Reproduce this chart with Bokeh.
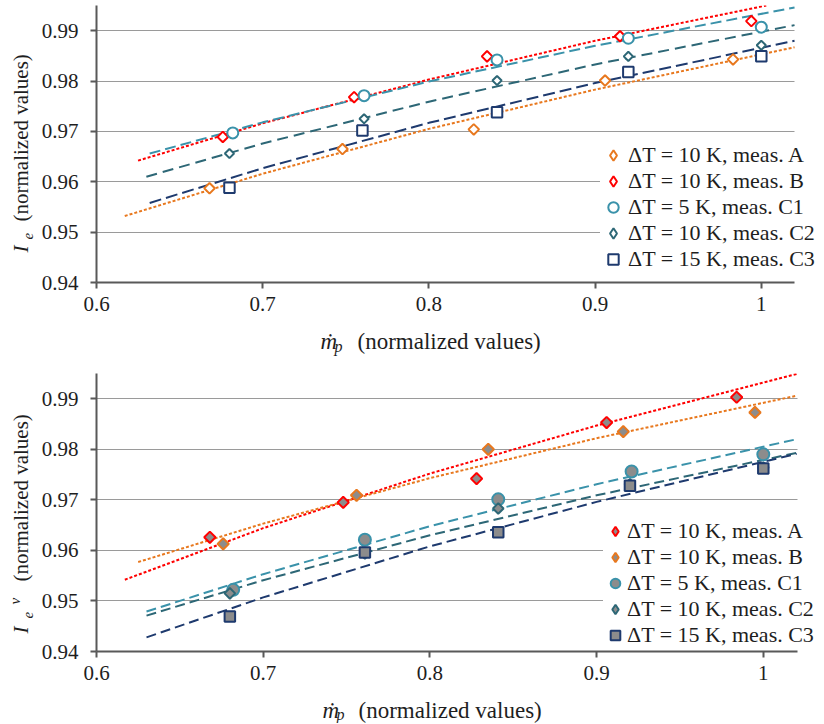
import math
from bokeh.plotting import figure
from bokeh.models import Range1d, FixedTicker, Legend, LegendItem
from bokeh.layouts import column, row
from bokeh.core.properties import value
from bokeh.embed import file_html
from bokeh.resources import INLINE

# ---------------- data ----------------
x_ticks = [0.6, 0.7, 0.8, 0.9, 1.0]
x_tick_labels = ["0.6", "0.7", "0.8", "0.9", "1"]
y_ticks = [0.94, 0.95, 0.96, 0.97, 0.98, 0.99]
y_tick_labels = ["0.94", "0.95", "0.96", "0.97", "0.98", "0.99"]

# top panel: I_e
top_labels = ["ΔT = 10 K, meas. A", "ΔT = 10 K, meas. B", "ΔT = 5 K, meas. C1",
              "ΔT = 10 K, meas. C2", "ΔT = 15 K, meas. C3"]
top_A_x = [0.668, 0.748, 0.827, 0.906, 0.983]
top_A_y = [0.9587, 0.9665, 0.9704, 0.9801, 0.9843]
top_B_x = [0.676, 0.755, 0.835, 0.915, 0.994]
top_B_y = [0.9689, 0.9768, 0.9849, 0.9889, 0.9919]
top_C1_x = [0.682, 0.761, 0.841, 0.920, 1.000]
top_C1_y = [0.9697, 0.9771, 0.9842, 0.9885, 0.9907]
top_C2_x = [0.680, 0.761, 0.841, 0.920, 1.000]
top_C2_y = [0.9656, 0.9725, 0.9801, 0.9849, 0.9871]
top_C3_x = [0.680, 0.760, 0.841, 0.920, 1.000]
top_C3_y = [0.9588, 0.9702, 0.9738, 0.9818, 0.9849]

# trend lines
top_A_fit_x = [0.617, 0.7, 0.8, 0.9, 1.02]
top_A_fit_y = [0.9532, 0.9616, 0.9705, 0.9783, 0.9867]
top_B_fit_x = [0.625, 0.7, 0.8, 0.9, 1.003]
top_B_fit_y = [0.9642, 0.9716, 0.9803, 0.9880, 0.9950]
top_C1_fit_x = [0.632, 0.7, 0.8, 0.9, 1.02]
top_C1_fit_y = [0.9656, 0.9718, 0.9799, 0.9870, 0.9946]
top_C2_fit_x = [0.630, 0.7, 0.8, 0.9, 1.02]
top_C2_fit_y = [0.9610, 0.9676, 0.9759, 0.9833, 0.9911]
top_C3_fit_x = [0.632, 0.7, 0.8, 0.9, 1.02]
top_C3_fit_y = [0.9558, 0.9627, 0.9717, 0.9796, 0.9880]

# bottom panel: I_e^v
bot_labels = ["ΔT = 10 K, meas. A", "ΔT = 10 K, meas. B", "ΔT = 5 K, meas. C1",
              "ΔT = 10 K, meas. C2", "ΔT = 15 K, meas. C3"]
bot_A_x = [0.668, 0.748, 0.828, 0.906, 0.984]
bot_A_y = [0.9626, 0.9695, 0.9742, 0.9853, 0.9903]
bot_B_x = [0.676, 0.756, 0.835, 0.916, 0.995]
bot_B_y = [0.9613, 0.9709, 0.9800, 0.9835, 0.9873]
bot_C1_x = [0.682, 0.761, 0.841, 0.921, 1.000]
bot_C1_y = [0.9522, 0.9621, 0.9701, 0.9756, 0.9790]
bot_C2_x = [0.680, 0.761, 0.841, 0.920, 1.000]
bot_C2_y = [0.9515, 0.9594, 0.9683, 0.9731, 0.9764]
bot_C3_x = [0.680, 0.761, 0.841, 0.920, 1.000]
bot_C3_y = [0.9469, 0.9596, 0.9636, 0.9728, 0.9762]

bot_A_fit_x = [0.617, 0.7, 0.8, 0.9, 1.02]
bot_A_fit_y = [0.9542, 0.9644, 0.9752, 0.9847, 0.9949]
bot_B_fit_x = [0.625, 0.7, 0.8, 0.9, 1.02]
bot_B_fit_y = [0.9577, 0.9653, 0.9743, 0.9822, 0.9906]
bot_C1_fit_x = [0.630, 0.7, 0.8, 0.9, 1.02]
bot_C1_fit_y = [0.9479, 0.9553, 0.9648, 0.9731, 0.9820]
bot_C2_fit_x = [0.630, 0.7, 0.8, 0.9, 1.02]
bot_C2_fit_y = [0.9471, 0.9541, 0.9630, 0.9709, 0.9793]
bot_C3_fit_x = [0.630, 0.7, 0.8, 0.9, 1.02]
bot_C3_fit_y = [0.9428, 0.9507, 0.9608, 0.9696, 0.9791]

# ---------------- style ----------------
FONT = "Liberation Serif"
TXT = "#1e1e1e"
ORANGE = "#E8781E"
RED = "#FF0000"
TEAL = "#3A92AA"
DTEAL = "#2D6776"
NAVY = "#1E3A6E"
GFILL = "#8C8C8C"
DIAM = math.pi / 4
YL_W = 38        # y-title strip width
LB = 58          # left border of the plots (frame starts at 96)
FW = 722         # frame width (extends right so legend text fits)


def make_fig(fh, x_end, x_axis_end, y_end, b_top, b_bottom):
    p = figure(frame_width=FW, frame_height=fh,
               x_range=Range1d(0.6, x_end), y_range=Range1d(0.94, y_end),
               output_backend="svg", toolbar_location=None,
               min_border_left=LB, min_border_right=2,
               min_border_top=b_top, min_border_bottom=b_bottom)
    p.outline_line_color = None
    p.background_fill_color = "white"
    p.xgrid.visible = False
    p.ygrid.ticker = FixedTicker(ticks=y_ticks)
    p.ygrid.grid_line_color = "#9a9a9a"
    p.ygrid.grid_line_width = 1
    try:
        p.ygrid.cross_bounds = (0.6, x_axis_end)
    except Exception:
        pass
    p.xaxis.bounds = (0.6, x_axis_end)
    p.xaxis.ticker = FixedTicker(ticks=x_ticks)
    p.yaxis.ticker = FixedTicker(ticks=y_ticks)
    p.xaxis.major_label_overrides = {t: l for t, l in zip(x_ticks, x_tick_labels)}
    p.yaxis.major_label_overrides = {t: l for t, l in zip(y_ticks, y_tick_labels)}
    for ax in (p.xaxis, p.yaxis):
        ax.axis_line_color = "#595959"
        ax.axis_line_width = 2
        ax.major_tick_line_color = "#595959"
        ax.major_tick_line_width = 2
        ax.major_tick_out = 6
        ax.major_tick_in = 0
        ax.minor_tick_line_color = None
        ax.major_label_text_font = FONT
        ax.major_label_text_font_size = "21px"
        ax.major_label_text_color = TXT
        ax.major_label_text_line_height = 1.0
    p.xaxis.major_label_standoff = 8
    p.yaxis.major_label_standoff = 12
    return p


def text_fig(fw, fh, bl=0, br=0, bt=0, bb=0):
    t = figure(frame_width=fw, frame_height=fh, x_range=Range1d(0, fw), y_range=Range1d(0, fh),
               x_axis_type=None, y_axis_type=None, output_backend="svg",
               toolbar_location=None, min_border_left=bl, min_border_right=br,
               min_border_top=bt, min_border_bottom=bb)
    t.outline_line_color = None
    t.grid.visible = False
    return t


def piece(t, x, y, txt, size, style="normal", angle=0.0, baseline="alphabetic"):
    t.text(x=[x], y=[y], text=[txt], angle=angle, text_font=value(FONT),
           text_font_size=value(size), text_font_style=style, text_color=TXT,
           text_align="left", text_baseline=baseline)


def add_legend(p, items, loc, gw, standoff, pad):
    leg = Legend(items=items, location=loc, orientation="vertical",
                 padding=pad, margin=0, spacing=0,
                 glyph_width=gw, glyph_height=26, label_height=26,
                 label_standoff=standoff,
                 label_text_font=FONT, label_text_font_size="22px",
                 label_text_color=TXT,
                 background_fill_color="white", background_fill_alpha=1.0,
                 border_line_color=None)
    p.add_layout(leg)


# ---------------- top figure ----------------
p1 = make_fig(277, 0.6 + FW / 1662.0, 1.0197, 0.995, 5, 38)
p1.line(top_A_fit_x, top_A_fit_y, line_color=ORANGE, line_width=2, line_dash="3 2")
p1.line(top_B_fit_x, top_B_fit_y, line_color=RED, line_width=2, line_dash="3 2")
p1.line(top_C1_fit_x, top_C1_fit_y, line_color=TEAL, line_width=2, line_dash="11 5")
p1.line(top_C2_fit_x, top_C2_fit_y, line_color=DTEAL, line_width=2, line_dash="11 6")
p1.line(top_C3_fit_x, top_C3_fit_y, line_color=NAVY, line_width=2, line_dash="12 5")
t_a = p1.scatter(top_A_x, top_A_y, marker="square", angle=DIAM, size=7.5,
                 line_color=ORANGE, line_width=2, fill_color="white")
t_b = p1.scatter(top_B_x, top_B_y, marker="square", angle=DIAM, size=7.5,
                 line_color=RED, line_width=2, fill_color="white")
t_c1 = p1.scatter(top_C1_x, top_C1_y, marker="circle", size=11,
                  line_color=TEAL, line_width=2, fill_color="white")
t_c2 = p1.scatter(top_C2_x, top_C2_y, marker="square", angle=DIAM, size=6.5,
                  line_color=DTEAL, line_width=2, fill_color="white")
t_c3 = p1.scatter(top_C3_x, top_C3_y, marker="square", size=10.5,
                  line_color=NAVY, line_width=2, fill_color="white")
# legend swatches for the diamond series (legend cannot rotate markers)
lt_a = p1.scatter(top_A_x, top_A_y, marker="diamond", line_color=ORANGE,
                  line_width=2, fill_color="white", visible=False)
lt_b = p1.scatter(top_B_x, top_B_y, marker="diamond", line_color=RED,
                  line_width=2, fill_color="white", visible=False)
lt_c2 = p1.scatter(top_C2_x, top_C2_y, marker="diamond", line_color=DTEAL,
                   line_width=2, fill_color="white", visible=False)
add_legend(p1, [LegendItem(label=l, renderers=[r]) for l, r in
                zip(top_labels, [lt_a, lt_b, t_c1, lt_c2, t_c3])],
           (504, 10), 26, 2, 7)

# ---------------- bottom figure ----------------
p2 = make_fig(278, 0.6 + FW / 1667.0, 1.0205, 0.995, 13, 38)
p2.line(bot_A_fit_x, bot_A_fit_y, line_color=RED, line_width=2, line_dash="3 2")
p2.line(bot_B_fit_x, bot_B_fit_y, line_color=ORANGE, line_width=2, line_dash="3 2")
p2.line(bot_C1_fit_x, bot_C1_fit_y, line_color=TEAL, line_width=2, line_dash="10 5")
p2.line(bot_C2_fit_x, bot_C2_fit_y, line_color=DTEAL, line_width=2, line_dash="10 5")
p2.line(bot_C3_fit_x, bot_C3_fit_y, line_color=NAVY, line_width=2, line_dash="10 5")
b_a = p2.scatter(bot_A_x, bot_A_y, marker="square", angle=DIAM, size=8,
                 line_color=RED, line_width=2, fill_color=GFILL)
b_b = p2.scatter(bot_B_x, bot_B_y, marker="square", angle=DIAM, size=8,
                 line_color=ORANGE, line_width=2, fill_color=GFILL)
b_c1 = p2.scatter(bot_C1_x, bot_C1_y, marker="circle", size=12,
                  line_color=TEAL, line_width=2, fill_color=GFILL)
b_c2 = p2.scatter(bot_C2_x, bot_C2_y, marker="square", angle=DIAM, size=7.5,
                  line_color=DTEAL, line_width=2, fill_color=GFILL)
b_c3 = p2.scatter(bot_C3_x, bot_C3_y, marker="square", size=10.5,
                  line_color=NAVY, line_width=2, fill_color=GFILL)
lb_a = p2.scatter(bot_A_x, bot_A_y, marker="diamond", line_color=RED,
                  line_width=2, fill_color=GFILL, visible=False)
lb_b = p2.scatter(bot_B_x, bot_B_y, marker="diamond", line_color=ORANGE,
                  line_width=2, fill_color=GFILL, visible=False)
lb_c2 = p2.scatter(bot_C2_x, bot_C2_y, marker="diamond", line_color=DTEAL,
                   line_width=2, fill_color=GFILL, visible=False)
add_legend(p2, [LegendItem(label=l, renderers=[r]) for l, r in
                zip(bot_labels, [lb_a, lb_b, b_c1, lb_c2, b_c3])],
           (507, 3), 24, 0, 4)

# ---------------- axis titles (text strips, frames aligned with plots) ----------------
# y strip of top block: frame spans the plot frame (abs y 5..282)
yl1 = text_fig(YL_W, 277, bt=5, bb=78)
piece(yl1, 20, 30, "I", "21px", "italic", math.pi / 2, "middle")
piece(yl1, 27, 43, "e", "15px", "italic", math.pi / 2, "middle")
piece(yl1, 20, 61, "(normalized values)", "21px", "normal", math.pi / 2, "middle")

# x strip of top block: abs y 320..360, frame left at abs x 96
xl1 = text_fig(FW, 40, bl=LB, br=2)
piece(xl1, 224, 19, "ṁ", "23px", "italic")
piece(xl1, 238, 14, "p", "16px", "italic")
piece(xl1, 261, 19, "(normalized values)", "23px")

# y strip of bottom block: frame spans abs y 373..651
yl2 = text_fig(YL_W, 278, bt=13, bb=72)
piece(yl2, 20, 18, "I", "21px", "italic", math.pi / 2, "middle")
piece(yl2, 27, 33, "e", "15px", "italic", math.pi / 2, "middle")
piece(yl2, 14, 47, "v", "15px", "italic", math.pi / 2, "middle")
piece(yl2, 20, 70, "(normalized values)", "21px", "normal", math.pi / 2, "middle")

# x strip of bottom block: abs y 689..723
xl2 = text_fig(FW, 34, bl=LB, br=2)
piece(xl2, 226, 13, "ṁ", "23px", "italic")
piece(xl2, 240, 9, "p", "16px", "italic")
piece(xl2, 262, 13, "(normalized values)", "23px")

layout = column(row(yl1, column(p1, xl1, spacing=0), spacing=0),
                row(yl2, column(p2, xl2, spacing=0), spacing=0),
                spacing=0)
open("out.html", "w").write(file_html(layout, INLINE))
